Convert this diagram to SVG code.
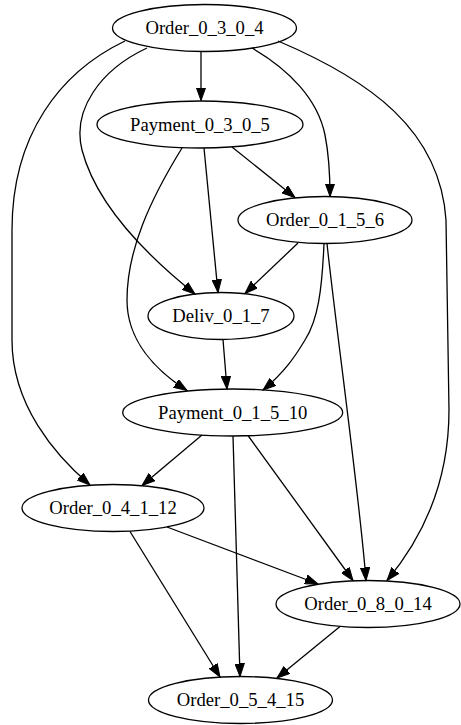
<svg xmlns="http://www.w3.org/2000/svg" width="461" height="725" viewBox="0 0 461 725">
<style>
.n ellipse{fill:none;stroke:#000;stroke-width:1.3}
.n text{font-family:"Liberation Serif","Times New Roman",serif;font-size:18.67px;text-anchor:middle;fill:#000}
#edges path{fill:none;stroke:#000;stroke-width:1.3;marker-end:url(#a)}
</style>
<defs>
<marker id="a" markerWidth="14" markerHeight="10" refX="13" refY="5" orient="auto" markerUnits="userSpaceOnUse"><path d="M0,0.3 L13,5 L0,9.7 z" fill="#000" stroke="#000" stroke-width="1"/></marker>
</defs>
<rect width="461" height="725" fill="#fff"/>
<g id="edges">
<path d="M201,52 L201,100.5"/>
<path d="M252,48 C290,70 318,100 325,135 C330,160 330,180 330,196.5"/>
<path d="M147,48 C100,70 72,110 82,150 C95,200 140,250 195,294"/>
<path d="M125,41 C60,72 12,135 12,230 L12,340 C12,405 55,455 90,485"/>
<path d="M278,41 C370,80 440,130 446,220 L449,410 C449,480 425,535 387,580.5"/>
<path d="M232,147 L295,197.5"/>
<path d="M204,148 L218,292.5"/>
<path d="M182,148 C150,200 127,250 127,300 C127,340 155,370 187,390.5"/>
<path d="M298,243 L245,293.5"/>
<path d="M324,243.5 C322,290 318,320 305,340 C296,355 285,372 263,390"/>
<path d="M327,243.5 C335,320 360,500 366,580.5"/>
<path d="M223,339.5 L227,389"/>
<path d="M202,435 L142,485.5"/>
<path d="M248,435.5 L353,580.5"/>
<path d="M233,436 L240,676.5"/>
<path d="M167,527 L318,584"/>
<path d="M130,531.5 L220,677"/>
<path d="M340,626.5 L277,678"/>
</g>
<g id="Order_0_3_0_4" class="n"><ellipse cx="204.5" cy="28" rx="92" ry="23.5"/><text x="204.5" y="34">Order_0_3_0_4</text></g>
<g id="Payment_0_3_0_5" class="n"><ellipse cx="200" cy="124.5" rx="103" ry="23.5"/><text x="200" y="130.5">Payment_0_3_0_5</text></g>
<g id="Order_0_1_5_6" class="n"><ellipse cx="325" cy="220" rx="87" ry="23.5"/><text x="325" y="226">Order_0_1_5_6</text></g>
<g id="Deliv_0_1_7" class="n"><ellipse cx="221" cy="316" rx="73" ry="23.5"/><text x="221" y="322">Deliv_0_1_7</text></g>
<g id="Payment_0_1_5_10" class="n"><ellipse cx="232.7" cy="412.5" rx="110" ry="23.5"/><text x="232.7" y="418.5">Payment_0_1_5_10</text></g>
<g id="Order_0_4_1_12" class="n"><ellipse cx="113" cy="508" rx="91" ry="23.5"/><text x="113" y="514">Order_0_4_1_12</text></g>
<g id="Order_0_8_0_14" class="n"><ellipse cx="368" cy="604" rx="92" ry="23.5"/><text x="368" y="610">Order_0_8_0_14</text></g>
<g id="Order_0_5_4_15" class="n"><ellipse cx="240.5" cy="700" rx="92" ry="23.5"/><text x="240.5" y="706">Order_0_5_4_15</text></g>
</svg>
